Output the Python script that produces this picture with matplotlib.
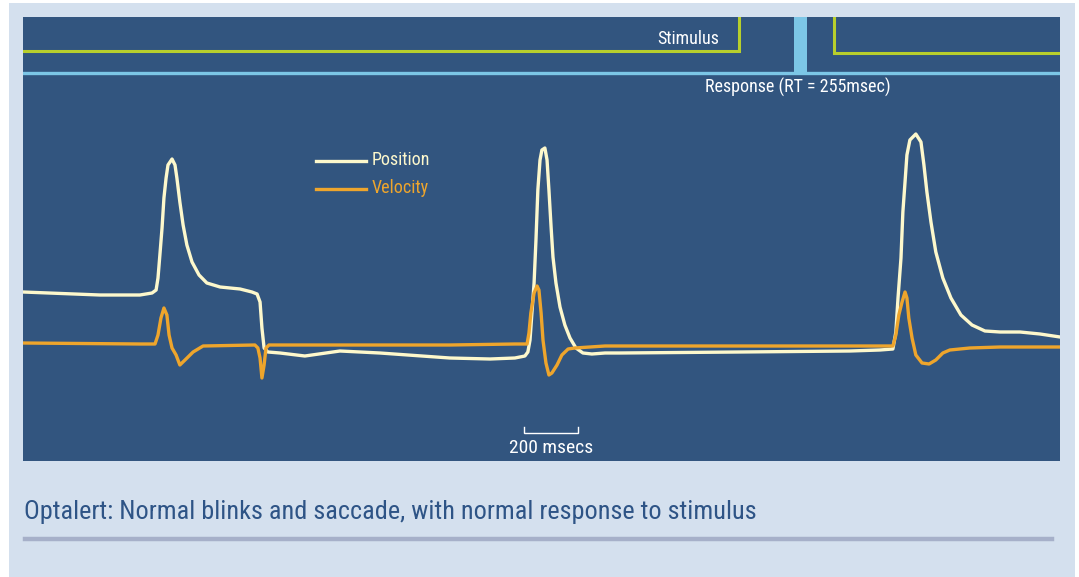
import matplotlib
matplotlib.use("Agg")
import matplotlib.pyplot as plt
from matplotlib import font_manager
from matplotlib.patches import Rectangle
from matplotlib.lines import Line2D

# ---------------- data ----------------
# time in ms, amplitude in arbitrary units
pos_t = [0, 285, 433,
         478, 493, 500, 507, 515, 522, 530, 537, 552, 563, 570, 581, 593, 607, 626, 652, 681, 730, 804, 848,
         867, 878, 885, 893, 907, 952,
         1044, 1174, 1322, 1581, 1730, 1822,
         1859, 1870, 1878, 1885, 1893, 1900, 1907, 1915, 1922, 1933, 1941, 1948, 1956, 1963, 1974, 1989,
         2007, 2026, 2048, 2074, 2107, 2156,
         2211, 2656, 3063, 3174,
         3222, 3233, 3241, 3252, 3259, 3267, 3274, 3285, 3307, 3326, 3337, 3348, 3363, 3381, 3407, 3437,
         3474, 3515, 3563, 3619, 3693, 3767, 3841]
pos_y = [169, 166, 166,
         168, 171, 183, 206, 233, 263, 283, 296, 302, 296, 283, 259, 236, 216, 199, 186, 178, 174, 172, 169,
         167, 159, 133, 113, 109, 108,
         105, 110, 108, 103, 102, 103,
         105, 109, 121, 148, 178, 221, 271, 301, 311, 313, 301, 271, 234, 204, 178, 154,
         136, 123, 113, 108, 107, 108,
         108, 109, 110, 111,
         112, 129, 163, 203, 249, 279, 306, 321, 327, 319, 296, 269, 239, 209, 183, 163,
         146, 136, 130, 129, 129, 127, 124]

vel_t = [0, 433,
         489, 500, 511, 522, 533, 541, 552, 567, 581, 600, 630, 667, 859, 870, 878, 885, 893, 900, 911, 952,
         1581, 1822,
         1867, 1874, 1881, 1893, 1904, 1911, 1919, 1926, 1937, 1948, 1959, 1978, 1996, 2019, 2044, 2156,
         2656, 3174,
         3222, 3233, 3244, 3256, 3267, 3274, 3281, 3293, 3307, 3330, 3356, 3381, 3407, 3433, 3507, 3619, 3841]
vel_y = [118, 117,
         117, 126, 143, 153, 146, 126, 113, 106, 96, 101, 109, 115, 116, 113, 103, 83, 96, 113, 116, 116,
         116, 117,
         117, 128, 148, 168, 175, 171, 148, 121, 98, 86, 88, 96, 106, 112, 113, 115,
         115, 115,
         115, 126, 146, 159, 169, 163, 143, 123, 106, 98, 97, 101, 108, 111, 113, 114, 114]

stim_on_ms = 2652
stim_off_ms = 3004
stim_level = 410
resp_start_ms = 2856
resp_end_ms = 2904
resp_level = 388
t_max = 3841
y_max = 444
scalebar_ms = 200

labels = {"stim": "Stimulus", "resp": "Response (RT = 255msec)",
          "pos": "Position", "vel": "Velocity", "scale": "200 msecs",
          "caption": "Optalert: Normal blinks and saccade, with normal response to stimulus"}

# ---------------- style ----------------
avail = {f.name for f in font_manager.fontManager.ttflist}
fam = next((f for f in ["Liberation Sans Narrow", "Roboto Condensed", "Liberation Sans"] if f in avail), "DejaVu Sans")
plt.rcParams["font.family"] = [fam, "DejaVu Sans"]

W, H = 1079, 577
DARK = "#32557f"
LIGHT = "#d4e0ee"
CREAM = "#fdf8cc"
ORANGE = "#eea52c"
STIM = "#b8cf2c"
RESP = "#7cc6e6"

fig = plt.figure(figsize=(W / 100, H / 100), dpi=100, facecolor="white")


def fx(px):
    return px / W


def fy(py):
    return 1 - py / H


fig.patches.append(Rectangle((fx(9), 0), fx(1075) - fx(9), fy(3), transform=fig.transFigure,
                             facecolor=LIGHT, edgecolor="none", zorder=-10))

ax = fig.add_axes([fx(23), fy(461), fx(1060) - fx(23), fy(17) - fy(461)])
ax.set_zorder(1)
ax.set_facecolor(DARK)
ax.set_xlim(0, t_max)
ax.set_ylim(0, y_max)
for s in ax.spines.values():
    s.set_visible(False)
ax.set_xticks([])
ax.set_yticks([])

# stimulus trace
ax.plot([0, stim_on_ms, stim_on_ms], [stim_level, stim_level, y_max], color=STIM, lw=2.2,
        solid_joinstyle="miter")
ax.plot([stim_off_ms, stim_off_ms, t_max], [y_max, stim_level - 1.5, stim_level - 1.5], color=STIM, lw=2.2,
        solid_joinstyle="miter")
# response trace
ax.plot([0, t_max], [resp_level, resp_level], color=RESP, lw=2.4)
ax.fill_between([resp_start_ms, resp_end_ms], resp_level, y_max, color=RESP, lw=0)

# eye traces
ax.plot(pos_t, pos_y, color=CREAM, lw=2.4, solid_joinstyle="round", solid_capstyle="round")
ax.plot(vel_t, vel_y, color=ORANGE, lw=2.4, solid_joinstyle="round", solid_capstyle="round")

# scale bar (in data units)
ms_per_px = t_max / (1060 - 23)
sb_x0 = (524 - 23) * ms_per_px
sb_x1 = sb_x0 + scalebar_ms
ax.plot([sb_x0, sb_x0, sb_x1, sb_x1], [34, 28, 28, 34], color="white", lw=1.0, solid_joinstyle="miter")

# text labels
fig.text(fx(719), fy(39), labels["stim"], color="white", fontsize=13, ha="right", va="center", zorder=5)
fig.text(fx(798), fy(87), labels["resp"], color="white", fontsize=13, ha="center", va="center", zorder=5)

# legend
fig.lines.append(Line2D([fx(316), fx(366)], [fy(161), fy(161)], transform=fig.transFigure, color=CREAM,
                        lw=2.4, zorder=5))
fig.lines.append(Line2D([fx(316), fx(366)], [fy(189), fy(189)], transform=fig.transFigure, color=ORANGE,
                        lw=2.4, zorder=5))
fig.text(fx(372), fy(160), labels["pos"], color=CREAM, fontsize=13, ha="left", va="center", zorder=5)
fig.text(fx(372), fy(188), labels["vel"], color=ORANGE, fontsize=13, ha="left", va="center", zorder=5)

fig.text(fx(551), fy(448), labels["scale"], color="white", fontsize=14, ha="center", va="center", zorder=5)

# caption
fig.text(fx(24), fy(512), labels["caption"], color="#2e5486", fontsize=18.9, ha="left", va="center")
fig.lines.append(Line2D([fx(25), fx(1052)], [fy(539), fy(539)], transform=fig.transFigure,
                        color="#a6b0c9", lw=3.2))

fig.savefig("out.png", dpi=100, facecolor=fig.get_facecolor())
